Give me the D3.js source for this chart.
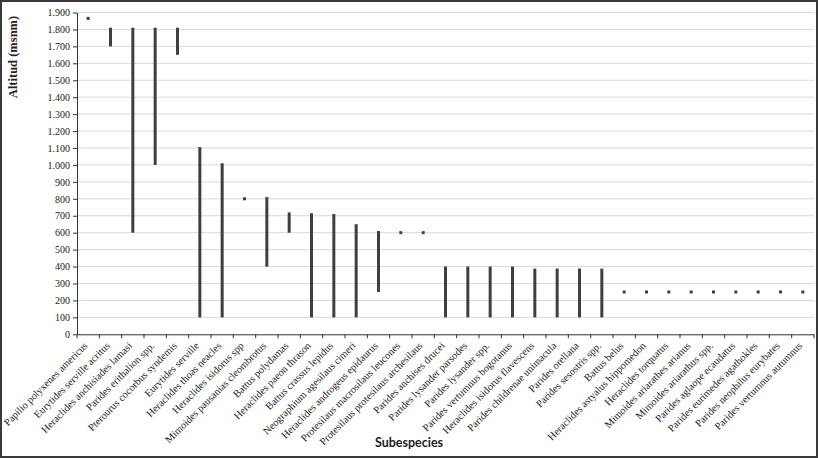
<!DOCTYPE html>
<html>
<head>
<meta charset="utf-8">
<script src="https://cdn.jsdelivr.net/npm/d3@7"></script>
<style>
  body { margin: 0; background: #fff; }
  svg { display: block; }
</style>
</head>
<body>
<div id="chart"></div>
<script>
var subspecies = [
    "Papilio polyxenes americus", "Eurytides serville acritus", "Heraclides anchisiades lamasi",
    "Parides erithalion spp.", "Pterourus cocorbus syndemis", "Eurytides serville",
    "Heraclides thoas neacles", "Heraclides isidorus spp", "Mimoides pausanias cleombrotus",
    "Battus polydamas", "Heraclides paeon thrason", "Battus crassus lepidus",
    "Neographium agesilaus cimeri", "Heraclides androgeus epidaurus", "Protesilaus macrosilaus leucones",
    "Protesilaus protesilaus archesilaus", "Parides anchises drucei", "Parides lysander parsodes",
    "Parides lysander spp.", "Parides vertumnus bogotanus", "Heraclides isidorus flavescens",
    "Parides childrenae unimacula", "Parides orellana", "Parides sesostris spp.",
    "Battus belus", "Heraclides astyalus hippomedon", "Heraclides torquatus",
    "Mimoides ariarathes arianus", "Mimoides ariarathus spp.", "Parides aglaope ecaudatus",
    "Parides eurimedes agathokles", "Parides neophilus eurybates", "Parides vertumnus autumnus"
];
var minAlt = [1865, 1700, 600, 1000, 1650, 100, 100, 800, 400, 600, 100, 100, 100, 250, 600, 600,
    100, 100, 100, 100, 100, 100, 100, 100, 250, 250, 250, 250, 250, 250, 250, 250, 250];
var maxAlt = [1865, 1810, 1810, 1810, 1810, 1105, 1010, 800, 810, 720, 715, 710, 650, 610, 600, 600,
    400, 400, 400, 400, 388, 388, 388, 388, 250, 250, 250, 250, 250, 250, 250, 250, 250];
var yTicks = d3.range(0, 2000, 100);

const w = 818;
const h = 458;
const padLeft = 77, padRight = 814, padTop = 12.5, padBottom = 334.3;

var locale = d3.formatLocale({ decimal: ",", thousands: ".", grouping: [3], currency: ["", ""] });
var fmt = locale.format(",d");

const svg = d3.select("#chart").append("svg")
    .attr("width", w)
    .attr("height", h);

// frame
svg.append("rect")
    .attr("x", 1).attr("y", 1)
    .attr("width", w - 2).attr("height", h - 2)
    .attr("fill", "#fff")
    .attr("stroke", "#3a3a3a")
    .attr("stroke-width", 2);

const xScale = d3.scaleBand()
    .domain(subspecies)
    .range([padLeft, padRight]);

const yScale = d3.scaleLinear()
    .domain([0, 1900])
    .range([padBottom, padTop]);

// gridlines
svg.append("g")
    .selectAll("line")
    .data(yTicks.filter(d => d > 0))
    .enter()
    .append("line")
    .attr("x1", padLeft).attr("x2", padRight)
    .attr("y1", d => yScale(d)).attr("y2", d => yScale(d))
    .attr("stroke", "#d9d9d9")
    .attr("stroke-width", 1);

// range bars (single altitude -> small square)
var rows = subspecies.map((s, i) => ({ name: s, lo: minAlt[i], hi: maxAlt[i] }));
svg.append("g")
    .selectAll("rect")
    .data(rows)
    .enter()
    .append("rect")
    .attr("x", d => xScale(d.name) + xScale.bandwidth() / 2 - 1.5)
    .attr("width", 3)
    .attr("y", d => d.hi === d.lo ? yScale(d.hi) - 1.5 : yScale(d.hi))
    .attr("height", d => d.hi === d.lo ? 3 : yScale(d.lo) - yScale(d.hi))
    .attr("fill", "#3f3f3f");

// axes
const yAxis = d3.axisLeft(yScale).tickValues(yTicks).tickFormat(fmt).tickSize(4).tickSizeOuter(0);
const xAxis = d3.axisBottom(xScale).tickSize(0).tickSizeOuter(0);

var gy = svg.append("g")
    .attr("transform", "translate(" + padLeft + ",0)")
    .call(yAxis);
gy.select(".domain").attr("stroke", "#333");
gy.selectAll(".tick line").attr("stroke", "#333");
gy.selectAll("text")
    .attr("font-family", "'Liberation Serif', 'Times New Roman', serif")
    .attr("font-size", 10)
    .attr("fill", "#222")
    .attr("x", -7);

var gx = svg.append("g")
    .attr("transform", "translate(0," + padBottom + ")")
    .call(xAxis);
gx.select(".domain").attr("stroke", "#333");

// tick marks at category boundaries
gx.selectAll(".bound")
    .data(d3.range(subspecies.length + 1))
    .enter()
    .append("line")
    .attr("class", "bound")
    .attr("x1", i => padLeft + i * xScale.step())
    .attr("x2", i => padLeft + i * xScale.step())
    .attr("y1", 0).attr("y2", 4)
    .attr("stroke", "#333");

gx.selectAll(".tick text")
    .attr("font-family", "'Liberation Serif', 'Times New Roman', serif")
    .attr("font-size", 10.3)
    .attr("fill", "#222")
    .attr("text-anchor", "end")
    .attr("dy", null)
    .attr("y", 0)
    .attr("transform", "translate(0,12) rotate(-45)");

// titles
svg.append("text")
    .attr("transform", "translate(17,57) rotate(-90)")
    .attr("text-anchor", "middle")
    .attr("font-family", "'Liberation Serif', 'Times New Roman', serif")
    .attr("font-weight", "bold")
    .attr("font-size", 12.5)
    .attr("fill", "#222")
    .text("Altitud (msnm)");

svg.append("text")
    .attr("x", 409)
    .attr("y", 447)
    .attr("text-anchor", "middle")
    .attr("font-family", "Lato, 'Liberation Sans', sans-serif")
    .attr("font-weight", "bold")
    .attr("font-size", 12.5)
    .attr("fill", "#222")
    .text("Subespecies");
</script>
</body>
</html>
